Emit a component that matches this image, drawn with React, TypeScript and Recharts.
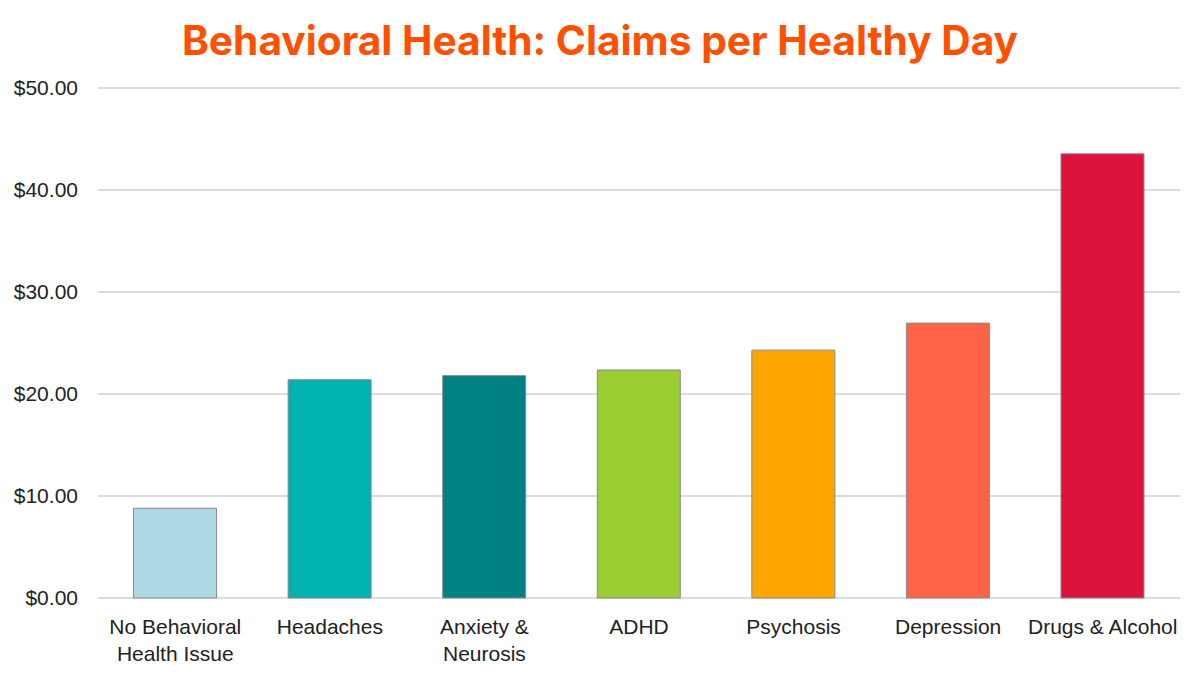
import { BarChart, Bar, XAxis, YAxis, CartesianGrid, Cell } from "recharts";

const categories = [
  "No Behavioral\nHealth Issue",
  "Headaches",
  "Anxiety &\nNeurosis",
  "ADHD",
  "Psychosis",
  "Depression",
  "Drugs & Alcohol",
];
const claimsPerDay = [8.8, 21.4, 21.8, 22.35, 24.3, 26.95, 43.55];
const barColors = [
  "#ADD8E6",
  "#00B3B0",
  "#008080",
  "#9ACD32",
  "#FFA500",
  "#FF6347",
  "#DC143C",
];
const yTicks = [0, 10, 20, 30, 40, 50];

const data = categories.map((name, i) => ({ name, value: claimsPerDay[i] }));

const FONT = "'Liberation Sans', Arial, sans-serif";

function CategoryTick(props: any) {
  const { x, y, payload } = props;
  const lines = String(payload.value).split("\n");
  return (
    <text
      x={x}
      y={y}
      textAnchor="middle"
      fill="#222"
      fontSize={21}
      fontFamily={FONT}
    >
      {lines.map((line, i) => (
        <tspan key={i} x={x} dy={i === 0 ? 28 : 27}>
          {line}
        </tspan>
      ))}
    </text>
  );
}

export default function App() {
  return (
    <div style={{ position: "relative", width: 1200, height: 675, background: "#fff" }}>
      <style>{`body{margin:0}`}</style>
      <div
        style={{
          position: "absolute",
          top: 13,
          left: 0,
          width: 1200,
          textAlign: "center",
          color: "#FF5000",
          fontFamily: "Inter, sans-serif",
          fontWeight: 700,
          fontSize: 40.7,
          lineHeight: "56px",
        }}
      >
        Behavioral Health: Claims per Healthy Day
      </div>
      <BarChart
        width={1200}
        height={675}
        data={data}
        margin={{ top: 88, right: 20, bottom: 0, left: 0 }}
        barCategoryGap="23%"
      >
        <CartesianGrid vertical={false} stroke="#d0d0d0" strokeWidth={1.5} />
        <XAxis
          dataKey="name"
          axisLine={false}
          tickLine={false}
          interval={0}
          height={77}
          tick={<CategoryTick />}
        />
        <YAxis
          domain={[0, 50]}
          ticks={yTicks}
          width={98}
          axisLine={false}
          tickLine={false}
          tickMargin={14}
          tickFormatter={(v: number) => `$${v.toFixed(2)}`}
          tick={{ fill: "#222", fontSize: 21, fontFamily: FONT }}
        />
        <Bar dataKey="value" stroke="#8a8a8a" strokeWidth={1} isAnimationActive={false}>
          {data.map((_, i) => (
            <Cell key={i} fill={barColors[i]} />
          ))}
        </Bar>
      </BarChart>
    </div>
  );
}
